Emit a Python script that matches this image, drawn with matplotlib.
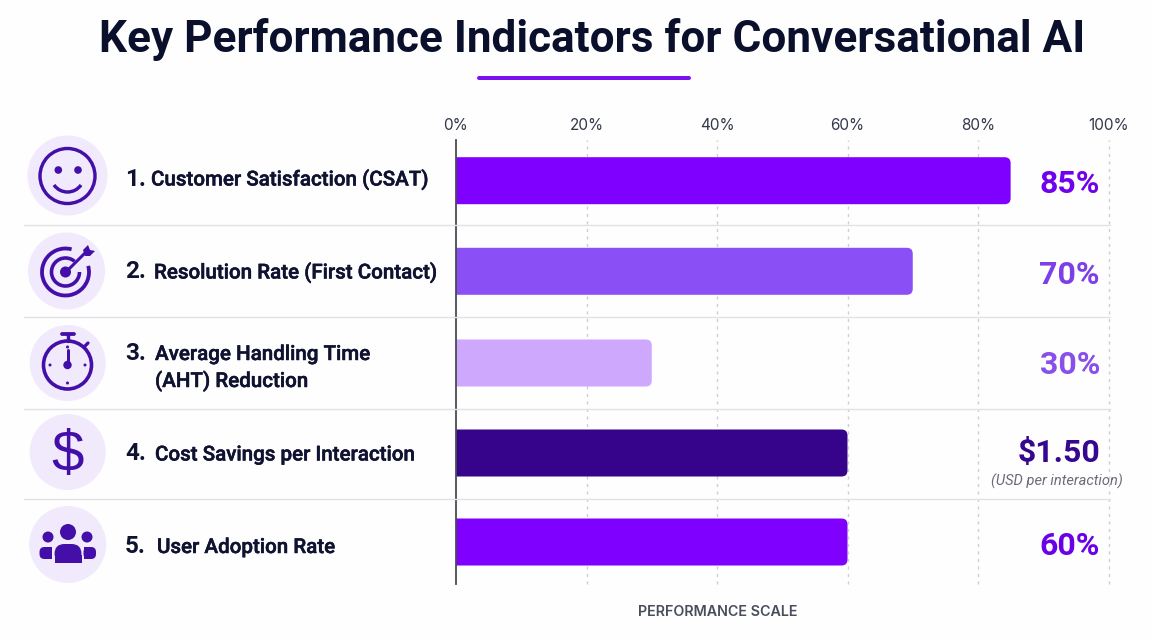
import numpy as np
import matplotlib
matplotlib.use("Agg")
import matplotlib.pyplot as plt
import matplotlib.patheffects as pe
from matplotlib.patches import Circle, FancyBboxPatch, Arc, Polygon, Rectangle

plt.rcParams['font.family'] = ['Roboto', 'DejaVu Sans']

title = "Key Performance Indicators for Conversational AI"
numbers = ["1.", "2.", "3.", "4.", "5."]
kpi_names = ["Customer Satisfaction (CSAT)", "Resolution Rate (First Contact)",
             "Average Handling Time\n(AHT) Reduction", "Cost Savings per Interaction",
             "User Adoption Rate"]
bar_lengths = [85, 70, 30, 60, 60]
value_labels = ["85%", "70%", "30%", "$1.50", "60%"]
tick_values = [0, 20, 40, 60, 80, 100]
bar_colors = ["#7F00FF", "#8A4FF5", "#CDA8FC", "#36048A", "#7F00FF"]
label_colors = ["#7000EE", "#7C3FE8", "#8850E8", "#35088F", "#6A00E8"]

INK = "#0F1230"
ICON = "#430FA8"
DISC = "#F1E9FC"
PX = 1 / 100 * 72  # one pixel in points at 100 dpi

fig = plt.figure(figsize=(11.52, 6.40), dpi=100, facecolor="#FEFEFE")

# Overlay in pixel coordinates for the heading, row rules, icons and row labels
page = fig.add_axes([0, 0, 1, 1], zorder=3)
page.set_xlim(0, 1152)
page.set_ylim(640, 0)
page.axis("off")
page.patch.set_alpha(0)

# Chart region: x is the percentage scale, y is measured downward
x0, x1, y_top, y_bot = 456, 1108.5, 140, 584
ax = fig.add_axes([x0 / 1152, 1 - y_bot / 640, (x1 - x0) / 1152, (y_bot - y_top) / 640], zorder=2)
ax.set_xlim(0, 100)
ax.set_ylim(y_bot, y_top)
ax.patch.set_alpha(0)
for s in ax.spines.values():
    s.set_visible(False)
ax.set_yticks([])
ax.set_xticks(tick_values)
ax.set_xticklabels([f"{t}%" for t in tick_values], fontsize=11, color="#33384A", family=["Inter", "DejaVu Sans"])
ax.xaxis.tick_top()
ax.tick_params(axis="x", length=0, pad=4.7)
for t in tick_values[1:]:
    ax.axvline(t, color="#CFCFD4", lw=1.0, ls=(0, (2.2, 3.2)), zorder=1, clip_on=False)
ax.axvline(0, color="#4A4A52", lw=1.3, zorder=5, clip_on=False)

centers = [180.7, 271.3, 363, 453, 542]
x_scale = (x1 - x0) / 100
for yc, length, color in zip(centers, bar_lengths, bar_colors):
    # The start lies left of the axes so only the right corners show as rounded
    p = FancyBboxPatch((-3, yc - 23.5), length + 3, 47,
                       boxstyle=f"round,pad=0,rounding_size={6 / x_scale}",
                       mutation_aspect=x_scale, fc=color, ec="none", zorder=3)
    ax.add_patch(p)

# Rules between rows
for y in [225, 317, 409, 499]:
    page.plot([24, 1110], [y, y], color="#E2E2E6", lw=1.0, zorder=1)


def stroke_circle(cx, cy, r, lw=3.4):
    page.add_patch(Circle((cx, cy), r, fc="none", ec=ICON, lw=lw * PX, zorder=5))


def dot(cx, cy, r, color=ICON):
    page.add_patch(Circle((cx, cy), r, fc=color, ec="none", zorder=5))


def seg(xa, ya, xb, yb, lw=3.4, cap="round"):
    page.plot([xa, xb], [ya, yb], color=ICON, lw=lw * PX, solid_capstyle=cap, zorder=5)


def arc(cx, cy, r, t1, t2, lw=3.4):
    # Angles follow the downward y axis of the overlay
    page.add_patch(Arc((cx, cy), 2 * r, 2 * r, theta1=t1, theta2=t2, color=ICON, lw=lw * PX, zorder=5))


discs = [(67.5, 175.5, 40), (66.5, 271, 38.5), (67.7, 363, 38), (67.7, 452, 38), (67.7, 544.5, 38.5)]
for cx, cy, r in discs:
    page.add_patch(Circle((cx, cy), r, fc=DISC, ec="none", zorder=2))

# Smiling face
stroke_circle(67.5, 176, 27.5)
dot(58.3, 170, 3.8)
dot(78, 170, 3.8)
arc(67.5, 175.5, 16.5, 35, 145)

# Target with arrow
arc(65.5, 272, 23.5, -15, 285, 3.8)
arc(65.5, 272, 14, 0, 310, 3.6)
dot(65.5, 272, 5.5)
seg(66, 272, 87, 251, 3.0)
page.add_patch(Polygon([[83, 250], [88, 245], [90, 250], [95, 251], [90, 256], [85, 256]],
                       fc=ICON, ec="none", zorder=5))

# Stopwatch
stroke_circle(67.5, 365, 24, 3.6)
seg(62, 334, 74, 334, 3.8)
seg(67.5, 334, 67.5, 341, 3.4)
seg(84, 347, 88, 343, 3.2)
seg(67.5, 350, 67.5, 365, 3.0)
dot(67.5, 365, 4.2)
dot(67.5, 347, 1.5)
dot(67.5, 383, 1.5)
dot(50, 365, 1.5)
dot(85, 365, 1.5)

# Dollar sign
page.text(67.5, 471, "$", fontsize=42, color=ICON, ha="center", va="baseline", zorder=5,
          family=["Liberation Sans", "DejaVu Sans"])

# Group of people
dot(68, 532, 8)
dot(48, 537, 5.5)
dot(87, 537, 5.5)
page.add_patch(FancyBboxPatch((54.5, 544), 27, 19, boxstyle="round,pad=0,rounding_size=10",
                              fc=ICON, ec="none", zorder=5))
page.add_patch(Rectangle((54.5, 555), 27, 8, fc=ICON, ec="none", zorder=5))
for bx in (39.5, 83.5):
    page.add_patch(FancyBboxPatch((bx, 547), 12.5, 12, boxstyle="round,pad=0,rounding_size=5",
                                  fc=ICON, ec="none", zorder=5))
page.add_patch(Rectangle((45.5, 547), 6.5, 12, fc=ICON, ec="none", zorder=5))
page.add_patch(Rectangle((83.5, 547), 6.5, 12, fc=ICON, ec="none", zorder=5))

# Numbered row labels
num_x = 125
name_x = [151, 154, 155, 155, 157]
baselines = [185.5, 278.5, 360, 460.5, 553]
HEAVIER = [pe.withStroke(linewidth=0.35, foreground=INK)]
NAME = dict(fontsize=14.8, fontweight="medium", color=INK, va="baseline", path_effects=HEAVIER)
NUM = dict(fontsize=17.5, fontweight="bold", color=INK, va="baseline")
for i, (n, name) in enumerate(zip(numbers, kpi_names)):
    page.text(num_x, baselines[i], n, **NUM)
    lines = name.split("\n")
    page.text(name_x[i], baselines[i], lines[0], **NAME)
    if len(lines) > 1:
        page.text(name_x[i], baselines[i] + 27, lines[1], **NAME)

# Value column
val_base = [193, 284, 374, 462, 555]
for y, text, color in zip(val_base, value_labels, label_colors):
    page.text(1100, y, text, fontsize=23, fontweight="bold", color=color, ha="right", va="baseline")
page.text(1056.5, 486, "(USD per interaction)", fontsize=10.5, style="italic", color="#6C6C78", ha="center", va="baseline")

page.text(592, 52, title, fontsize=31.8, fontweight="bold", color="#0A0F2C", ha="center", va="baseline")
page.plot([479, 689], [78, 78], color="#7A10F0", lw=4 * PX, solid_capstyle="round")
page.text(717.5, 612, "PERFORMANCE SCALE", fontsize=10.3, fontweight="semibold", color="#484C5C",
          ha="center", va="center", family=["Inter", "DejaVu Sans"])

fig.savefig("out.png", dpi=100, facecolor=fig.get_facecolor())
